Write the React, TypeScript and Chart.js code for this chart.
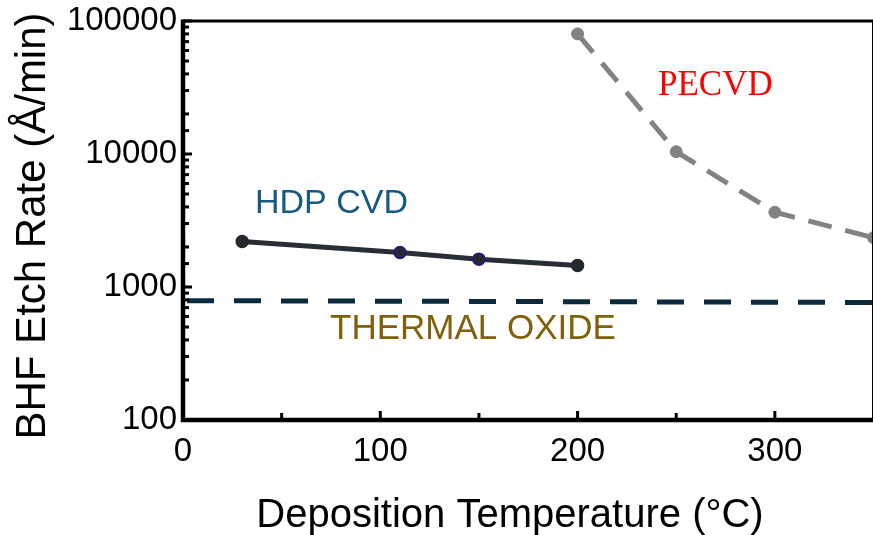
import { useEffect, useRef } from 'react';
import { Chart, registerables } from 'chart.js';

Chart.register(...registerables);

// Deposition temperature (°C) vs. BHF etch rate (Å/min)
const hdpTemps = [30, 110, 150, 200];
const hdpRates = [2200, 1820, 1620, 1450];

const pecvdTemps = [200, 250, 300, 350];
const pecvdRates = [80000, 10400, 3650, 2350];

const thermalTemps = [0, 350];
const thermalRates = [790, 765];

const xLabelTicks = [0, 100, 200, 300];
const yLabelTicks = [100, 1000, 10000, 100000];

const xTitle = 'Deposition Temperature (°C)';
const yTitle = 'BHF Etch Rate (Å/min)';
const hdpLabel = 'HDP CVD';
const thermalLabel = 'THERMAL OXIDE';
const pecvdLabel = 'PECVD';

const SANS = '"Liberation Sans", Arial, Helvetica, sans-serif';
const SERIF = '"Liberation Serif", "Times New Roman", serif';

// the canvas runs a little past the visible frame so the plot box reaches the right edge
const CANVAS_W = 881;
const CANVAS_H = 535;

const toPoints = (xs: number[], ys: number[]) => xs.map((x, i) => ({ x, y: ys[i] }));

// keep the plot box fixed: no extra room reserved for edge tick labels
const fixBox = (size: 'width' | 'height', value: number) => (s: any) => {
  s[size] = value;
  s.paddingTop = 0;
  s.paddingBottom = 0;
  s.paddingLeft = 0;
  s.paddingRight = 0;
};

const frameAndLabels = {
  id: 'frameAndLabels',
  afterDatasetsDraw(chart: any) {
    const { ctx, chartArea: a, scales } = chart;
    const xs = scales.x;
    const ys = scales.y;
    ctx.save();
    ctx.strokeStyle = '#000';
    ctx.lineCap = 'butt';

    // thin top and right frame
    ctx.lineWidth = 3;
    ctx.beginPath();
    ctx.moveTo(a.left, a.top);
    ctx.lineTo(a.right, a.top);
    ctx.lineTo(a.right, a.bottom);
    ctx.stroke();

    // inward tick marks on the x axis
    xs.ticks.forEach((t: any) => {
      if (t.value <= xs.min || t.value >= xs.max) return;
      const px = xs.getPixelForValue(t.value);
      const len = xLabelTicks.includes(t.value) ? 9 : 7;
      ctx.beginPath();
      ctx.moveTo(px, a.bottom);
      ctx.lineTo(px, a.bottom - len);
      ctx.stroke();
    });

    // inward tick marks on the log y axis
    ys.ticks.forEach((t: any) => {
      const py = ys.getPixelForValue(t.value);
      const len = yLabelTicks.includes(t.value) ? 9 : 6;
      ctx.beginPath();
      ctx.moveTo(a.left, py);
      ctx.lineTo(a.left + len, py);
      ctx.stroke();
    });

    // heavy left and bottom axes
    ctx.lineWidth = 4.5;
    ctx.beginPath();
    ctx.moveTo(a.left, a.top - 1.5);
    ctx.lineTo(a.left, a.bottom);
    ctx.lineTo(a.right + 1.5, a.bottom);
    ctx.stroke();
    ctx.restore();
  },
  afterDraw(chart: any) {
    const { ctx } = chart;
    ctx.save();
    ctx.textBaseline = 'alphabetic';

    ctx.textAlign = 'left';
    ctx.font = `34px ${SANS}`;
    ctx.fillStyle = '#155a80';
    ctx.fillText(hdpLabel, 255, 213);

    ctx.font = `35px ${SANS}`;
    ctx.fillStyle = '#80600a';
    ctx.fillText(thermalLabel, 330, 339);

    ctx.font = `35px ${SERIF}`;
    ctx.fillStyle = '#ff0000';
    ctx.fillText(pecvdLabel, 658, 95);

    ctx.fillStyle = '#000';
    ctx.textAlign = 'center';
    ctx.font = `40px ${SANS}`;
    ctx.fillText(xTitle, 510, 527);

    ctx.translate(45, 226);
    ctx.rotate(-Math.PI / 2);
    ctx.font = `42px ${SANS}`;
    ctx.fillText(yTitle, 0, 0);
    ctx.restore();
  },
};

export default function App() {
  const canvasRef = useRef<HTMLCanvasElement | null>(null);

  useEffect(() => {
    document.body.style.margin = '0';
    const canvas = canvasRef.current;
    if (!canvas) return;

    const chart = new Chart(canvas, {
      type: 'line',
      data: {
        datasets: [
          {
            label: 'THERMAL OXIDE',
            data: toPoints(thermalTemps, thermalRates),
            borderColor: '#0b2a3e',
            borderWidth: 5,
            borderDash: [27, 20],
            borderDashOffset: -4,
            pointRadius: 0,
            clip: 0,
          },
          {
            label: 'HDP CVD',
            data: toPoints(hdpTemps, hdpRates),
            borderColor: '#282e33',
            borderWidth: 5,
            pointRadius: 6,
            pointBackgroundColor: '#23292e',
            pointBorderColor: ['#23292e', '#1c1c8c', '#1c1c8c', '#23292e'],
            pointBorderWidth: 1.5,
          },
          {
            label: 'PECVD',
            data: toPoints(pecvdTemps, pecvdRates),
            borderColor: '#828282',
            borderWidth: 5,
            borderDash: [24, 14],
            pointRadius: 6,
            pointBackgroundColor: '#828282',
            pointBorderColor: '#828282',
            pointBorderWidth: 1,
            clip: 0,
          },
        ],
      },
      options: {
        animation: false,
        responsive: false,
        maintainAspectRatio: false,
        layout: { padding: { top: 21, right: 1.5, left: 0, bottom: 0 } },
        plugins: {
          legend: { display: false },
          tooltip: { enabled: false },
        },
        scales: {
          x: {
            type: 'linear',
            min: 0,
            max: 350,
            grid: { display: false, drawTicks: false },
            border: { display: false },
            afterFit: fixBox('height', 115),
            ticks: {
              stepSize: 50,
              autoSkip: false,
              maxRotation: 0,
              padding: 12,
              color: '#000',
              font: { family: SANS, size: 33 },
              callback: (v: any) => (xLabelTicks.includes(Number(v)) ? String(v) : ''),
            },
          },
          y: {
            type: 'logarithmic',
            min: 100,
            max: 100000,
            grid: { display: false, drawTicks: false },
            border: { display: false },
            afterFit: fixBox('width', 183),
            ticks: {
              autoSkip: false,
              padding: 6,
              color: '#000',
              font: { family: SANS, size: 33 },
              callback: (v: any) => (yLabelTicks.includes(Number(v)) ? String(v) : ''),
            },
          },
        },
      },
      plugins: [frameAndLabels],
    });

    return () => chart.destroy();
  }, []);

  return (
    <div style={{ width: 873, height: 535, position: 'relative', overflow: 'hidden', background: '#fff' }}>
      <canvas ref={canvasRef} width={CANVAS_W} height={CANVAS_H} style={{ display: 'block' }} />
    </div>
  );
}
